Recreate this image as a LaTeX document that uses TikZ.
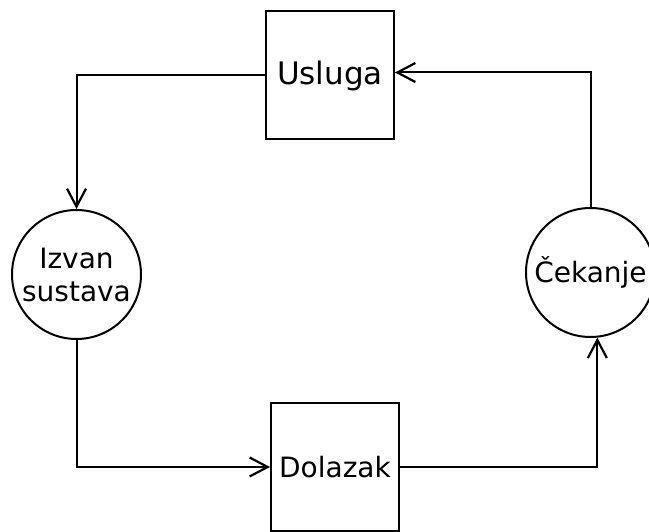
\documentclass[tikz,border=0pt]{standalone}
\usepackage{fontspec}
\setmainfont{DejaVu Sans}
\usetikzlibrary{arrows.meta}

\begin{document}
\begin{tikzpicture}[x=1pt,y=-1pt,
		      		stanje/.style={draw, line width=2pt, minimum size=128pt, inner sep=0pt, font=\fontsize{28}{33}\selectfont},
		      		kutija/.style={stanje, rectangle},
		      		krug/.style={stanje, circle, align=center},
		      		veza/.style={line width=2pt, -{Straight Barb[length=18pt,width=19pt,line width=2.2pt]}}]
		      		\useasboundingbox (0,0) rectangle (649,532);

		      		\node[kutija, font=\fontsize{31}{36}\selectfont] (usluga) at (330,75.5) {Usluga};
		      		\node[kutija] (dolazak) at (335,467) {Dolazak};
		      		\node[krug, minimum size=129pt] (izvan) at (76.5,274.5) {Izvan\\sustava};
		      		\node[krug, minimum size=129pt] (cekanje) at (590.5,272.5) {Čekanje};

		      		\draw[veza] (usluga.west) -| (izvan.north);
		      		\draw[veza] (izvan.south) |- (dolazak.west);
		      		\draw[veza] (dolazak.east) -| (cekanje.-84);
		      		\draw[veza] (cekanje.north) |- ([yshift=3pt]usluga.east);
		      	\end{tikzpicture}
\end{document}
